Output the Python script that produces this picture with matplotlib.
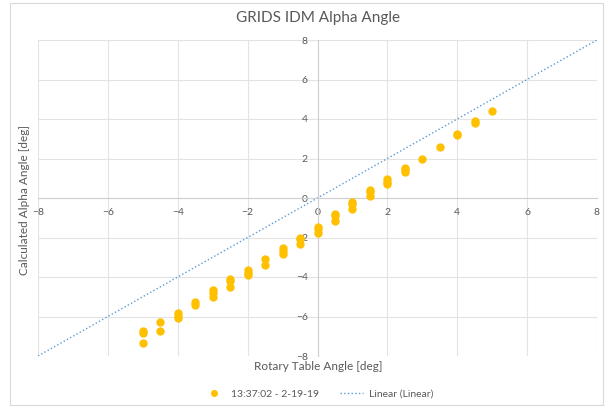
import matplotlib.pyplot as plt
from matplotlib.patches import Rectangle

plt.rcParams['font.family'] = ['Lato', 'DejaVu Sans']

# Rotary table angle vs calculated alpha angle (deg)
table_angle = [-5, -5, -5, -4.5, -4.5, -4, -4, -4, -3.5, -3.5,
               -3, -3, -3, -2.5, -2.5, -2.5, -2, -2, -2, -1.5, -1.5,
               -1, -1, -1, -0.5, -0.5, -0.5, 0, 0, 0, 0.5, 0.5, 0.5,
               1, 1, 1, 1.5, 1.5, 1.5, 2, 2, 2, 2.5, 2.5, 2.5,
               3, 3.5, 4, 4, 4.5, 4.5, 5]
alpha_angle = [-6.75, -6.85, -7.35, -6.3, -6.75, -5.8, -5.95, -6.1, -5.25, -5.4,
               -4.65, -4.8, -5.0, -4.1, -4.2, -4.5, -3.65, -3.8, -3.9, -3.1, -3.4,
               -2.55, -2.7, -2.85, -2.0, -2.1, -2.35, -1.45, -1.55, -1.75, -0.8, -0.9, -1.15,
               -0.2, -0.3, -0.55, 0.4, 0.3, 0.1, 0.95, 0.8, 0.7, 1.5, 1.4, 1.3,
               2.0, 2.6, 3.2, 3.25, 3.8, 3.9, 4.4]
linear_x = [-8, 8]
linear_y = [-8, 8]
ticks = [-8, -6, -4, -2, 0, 2, 4, 6, 8]

fig = plt.figure(figsize=(6.07, 4.08), dpi=100)
ax = fig.add_axes([38 / 607, 1 - 356 / 408, 559 / 607, 316 / 408])

ax.plot(table_angle, alpha_angle, 'o', color='#FFC000', markersize=5.0,
        label='13:37:02 - 2-19-19', zorder=3)
ax.plot(linear_x, linear_y, linestyle=':', color='#5B9BD5', linewidth=1.0,
        label='Linear (Linear)', zorder=2)

ax.set_xlim(-8, 8)
ax.set_ylim(-8, 8)
ax.set_xticks(ticks)
ax.set_yticks(ticks)
ax.grid(True, color='#e3e3e3', linewidth=0.8)
ax.set_axisbelow(True)

for s in ['top', 'right']:
    ax.spines[s].set_visible(False)
ax.spines['left'].set_position('zero')
ax.spines['bottom'].set_position('zero')
ax.spines['left'].set_color('#d0d0d0')
ax.spines['bottom'].set_color('#d0d0d0')
ax.tick_params(length=0, labelsize=7.5, colors='#595959', pad=7)

fig.text(318 / 607, 1 - 366 / 408, 'Rotary Table Angle [deg]', ha='center',
         va='center', fontsize=8.5, color='#595959')
fig.text(25 / 607, 1 - 200 / 408, 'Calculated Alpha Angle [deg]', ha='center',
         va='center', rotation=90, fontsize=8.5, color='#595959')
fig.text(318 / 607, 1 - 18 / 408, 'GRIDS IDM Alpha Angle', ha='center',
         va='center', fontsize=11, color='#595959')

leg = fig.legend(loc='center', bbox_to_anchor=(318 / 607, 1 - 394 / 408),
                 ncol=2, frameon=False, fontsize=7.5, handlelength=2.2,
                 columnspacing=2.0, handletextpad=0.6, markerscale=0.8)
for t in leg.get_texts():
    t.set_color('#595959')

fig.patches.append(Rectangle((10 / 607, 3 / 408), 593 / 607, 402 / 408,
                             transform=fig.transFigure, fill=False,
                             edgecolor='#d9d9d9', linewidth=0.8))

plt.savefig('out.png', dpi=100)
